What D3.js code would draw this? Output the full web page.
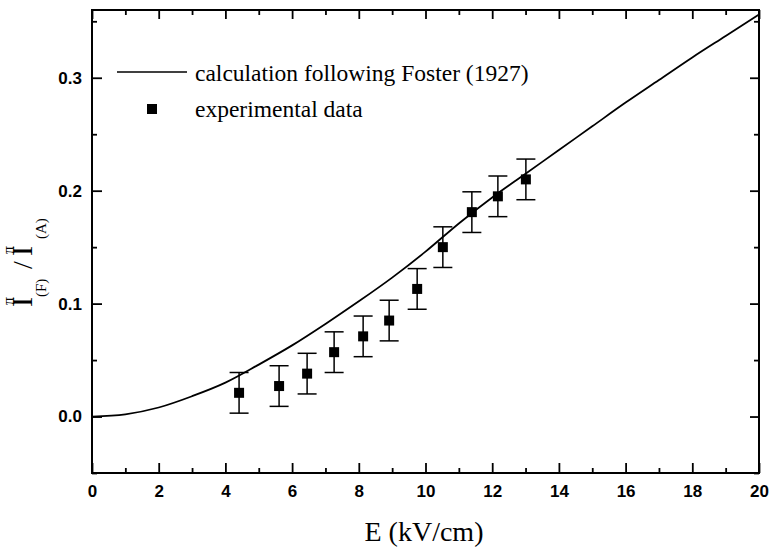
<!DOCTYPE html>
<html>
<head>
<meta charset="utf-8">
<script src="https://cdn.jsdelivr.net/npm/d3@7"></script>
<style>
  html, body { margin: 0; padding: 0; background: #fff; }
  svg { display: block; }
</style>
</head>
<body>
<svg id="chart" width="773" height="551"></svg>
<script>
// ---- data ----
const calcE     = [0, 1, 2, 3, 4, 5, 6, 7, 8, 9, 10, 11, 12, 13, 14, 15, 16, 17, 18, 19, 20];
const calcRatio = [0.000, 0.002, 0.008, 0.018, 0.030, 0.046, 0.063, 0.082, 0.102, 0.123, 0.146, 0.171, 0.194, 0.215, 0.236, 0.257, 0.278, 0.298, 0.318, 0.337, 0.356];

const expE      = [4.41, 5.61, 6.45, 7.26, 8.13, 8.91, 9.75, 10.52, 11.39, 12.17, 13.01];
const expRatio  = [0.021, 0.027, 0.038, 0.057, 0.071, 0.085, 0.113, 0.150, 0.181, 0.195, 0.210];
const expErr    = [0.018, 0.018, 0.018, 0.018, 0.018, 0.018, 0.018, 0.018, 0.018, 0.018, 0.018];

const xTicks = [0, 2, 4, 6, 8, 10, 12, 14, 16, 18, 20];
const xMinor = [1, 3, 5, 7, 9, 11, 13, 15, 17, 19];
const yTicks = [0.0, 0.1, 0.2, 0.3];
const yMinor = [-0.05, 0.05, 0.15, 0.25, 0.35];

const legendLabels = ["calculation following Foster (1927)", "experimental data"];

// ---- layout ----
const svg = d3.select("#chart");
const L = 92, R = 759, T = 10, B = 473;
const x = d3.scaleLinear().domain([0, 20]).range([L, R]);
const y = d3.scaleLinear().domain([-0.05, 0.36]).range([B, T]);

const sans = "'Liberation Sans', Arial, sans-serif";
const serif = "'Liberation Serif', 'Times New Roman', serif";

function styleAxis(g) {
  g.select(".domain").remove();
  g.selectAll(".tick line").attr("stroke", "#000").attr("stroke-width", 1.8);
}
const axBottom = svg.append("g").attr("transform", `translate(0,${B})`)
  .call(d3.axisBottom(x).tickValues(xTicks).tickSize(-10).tickPadding(7).tickFormat(d3.format("d")));
styleAxis(axBottom);
axBottom.selectAll("text").attr("font-family", sans).attr("font-size", 17).attr("font-weight", "bold")
  .attr("fill", "#000").attr("dy", "1em");
svg.append("g").attr("transform", `translate(0,${B})`)
  .call(d3.axisBottom(x).tickValues(xMinor).tickSize(-5).tickFormat(""))
  .call(styleAxis);

svg.append("g").attr("transform", `translate(0,${T})`)
  .call(d3.axisTop(x).tickValues(xTicks).tickSize(-9).tickFormat(""))
  .call(styleAxis);
svg.append("g").attr("transform", `translate(0,${T})`)
  .call(d3.axisTop(x).tickValues(xMinor).tickSize(-5).tickFormat(""))
  .call(styleAxis);

const axLeft = svg.append("g").attr("transform", `translate(${L},0)`)
  .call(d3.axisLeft(y).tickValues(yTicks).tickSize(-10).tickPadding(10).tickFormat(d3.format(".1f")));
styleAxis(axLeft);
axLeft.selectAll("text").attr("font-family", sans).attr("font-size", 17).attr("font-weight", "bold").attr("fill", "#000");
svg.append("g").attr("transform", `translate(${L},0)`)
  .call(d3.axisLeft(y).tickValues(yMinor).tickSize(-5).tickFormat(""))
  .call(styleAxis);

svg.append("g").attr("transform", `translate(${R},0)`)
  .call(d3.axisRight(y).tickValues(yTicks).tickSize(-9).tickFormat(""))
  .call(styleAxis);
svg.append("g").attr("transform", `translate(${R},0)`)
  .call(d3.axisRight(y).tickValues(yMinor).tickSize(-5).tickFormat(""))
  .call(styleAxis);

// frame
svg.append("rect").attr("x", L).attr("y", T).attr("width", R - L).attr("height", B - T)
  .attr("fill", "none").attr("stroke", "#000").attr("stroke-width", 2);

// calculation curve
const calcData = calcE.map((e, i) => [e, calcRatio[i]]);
svg.append("path").datum(calcData)
  .attr("fill", "none").attr("stroke", "#000").attr("stroke-width", 1.8)
  .attr("d", d3.line().x(d => x(d[0])).y(d => y(d[1])).curve(d3.curveMonotoneX));

// experimental data with error bars
const expData = expE.map((e, i) => ({e, v: expRatio[i], err: expErr[i]}));
const pts = svg.append("g").selectAll("g").data(expData).join("g");
pts.append("line")
  .attr("x1", d => x(d.e)).attr("x2", d => x(d.e))
  .attr("y1", d => y(d.v - d.err)).attr("y2", d => y(d.v + d.err))
  .attr("stroke", "#000").attr("stroke-width", 1.5);
pts.append("line")
  .attr("x1", d => x(d.e) - 9.5).attr("x2", d => x(d.e) + 9.5)
  .attr("y1", d => y(d.v + d.err)).attr("y2", d => y(d.v + d.err))
  .attr("stroke", "#000").attr("stroke-width", 1.5);
pts.append("line")
  .attr("x1", d => x(d.e) - 9.5).attr("x2", d => x(d.e) + 9.5)
  .attr("y1", d => y(d.v - d.err)).attr("y2", d => y(d.v - d.err))
  .attr("stroke", "#000").attr("stroke-width", 1.5);
pts.append("rect")
  .attr("x", d => x(d.e) - 5).attr("y", d => y(d.v) - 5)
  .attr("width", 10).attr("height", 10).attr("fill", "#000");

// legend
const lg = svg.append("g");
lg.append("line").attr("x1", 117).attr("x2", 187).attr("y1", 72).attr("y2", 72)
  .attr("stroke", "#000").attr("stroke-width", 1.5);
lg.append("text").attr("x", 195).attr("y", 81).text(legendLabels[0])
  .attr("font-family", serif).attr("font-size", 23.5).attr("fill", "#000");
lg.append("rect").attr("x", 147).attr("y", 104).attr("width", 10).attr("height", 10).attr("fill", "#000");
lg.append("text").attr("x", 195).attr("y", 117).text(legendLabels[1])
  .attr("font-family", serif).attr("font-size", 23.5).attr("fill", "#000");

// x axis title
svg.append("text").attr("x", 424).attr("y", 541).attr("text-anchor", "middle")
  .attr("font-family", serif).attr("font-size", 28).attr("fill", "#000").text("E (kV/cm)");

// y axis title (stacked super/subscripts)
const yt = svg.append("g").attr("transform", "translate(32,0) rotate(-90)")
  .attr("font-family", serif).attr("fill", "#000");
yt.append("text").attr("x", -307).attr("y", 0).attr("font-size", 30).text("I");
yt.append("text").attr("x", -305).attr("y", -18).attr("font-size", 16).text("π");
yt.append("text").attr("x", -297).attr("y", 14).attr("font-size", 15).text("(F)");
yt.append("text").attr("x", -269).attr("y", 0).attr("font-size", 28).text("/");
yt.append("text").attr("x", -256).attr("y", 0).attr("font-size", 30).text("I");
yt.append("text").attr("x", -254).attr("y", -18).attr("font-size", 16).text("π");
yt.append("text").attr("x", -239).attr("y", 14).attr("font-size", 15).text("(A)");
</script>
</body>
</html>
